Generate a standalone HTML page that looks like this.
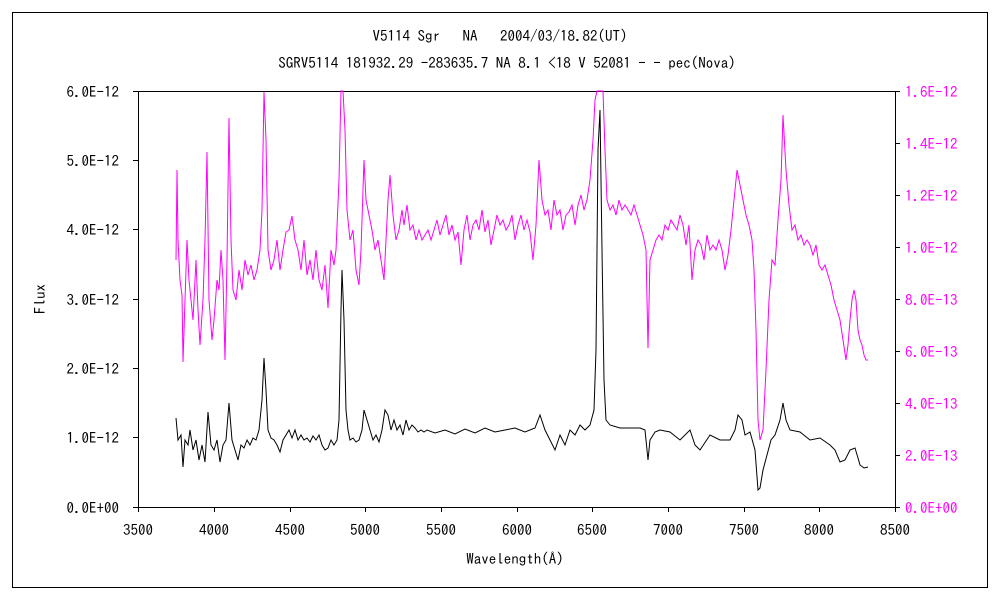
<!DOCTYPE html>
<html><head><meta charset="utf-8"><style>
html,body{margin:0;padding:0;background:#fff;}
svg{display:block;font-family:"IPAGothic","Liberation Sans",sans-serif;}
</style></head><body>
<svg width="1000" height="600" viewBox="0 0 1000 600" xmlns="http://www.w3.org/2000/svg">
<rect x="0" y="0" width="1000" height="600" fill="#fff"/>
<rect x="12.5" y="12.5" width="975" height="575" fill="none" stroke="#000" stroke-width="1"/>
<text x="500" y="41" font-size="15" text-anchor="middle" fill="#000">V5114 Sgr　 NA　 2004/03/18.82(UT)</text>
<text x="507" y="68" font-size="15" text-anchor="middle" fill="#000">SGRV5114 181932.29 -283635.7 NA 8.1 &lt;18 V 52081 - - pec(Nova)</text>
<rect x="138.5" y="91.5" width="757" height="416" fill="none" stroke="#000" stroke-width="1"/>
<g stroke="#000" stroke-width="1">
<line x1="133" y1="91.5" x2="138" y2="91.5"/><line x1="133" y1="160.5" x2="138" y2="160.5"/><line x1="133" y1="229.5" x2="138" y2="229.5"/><line x1="133" y1="299.5" x2="138" y2="299.5"/><line x1="133" y1="368.5" x2="138" y2="368.5"/><line x1="133" y1="437.5" x2="138" y2="437.5"/><line x1="133" y1="507.5" x2="138" y2="507.5"/>
<line x1="895" y1="91.5" x2="900" y2="91.5"/><line x1="895" y1="143.5" x2="900" y2="143.5"/><line x1="895" y1="195.5" x2="900" y2="195.5"/><line x1="895" y1="247.5" x2="900" y2="247.5"/><line x1="895" y1="299.5" x2="900" y2="299.5"/><line x1="895" y1="351.5" x2="900" y2="351.5"/><line x1="895" y1="403.5" x2="900" y2="403.5"/><line x1="895" y1="455.5" x2="900" y2="455.5"/><line x1="895" y1="507.5" x2="900" y2="507.5"/>
<line x1="138.5" y1="507" x2="138.5" y2="512"/><line x1="214.5" y1="507" x2="214.5" y2="512"/><line x1="290.5" y1="507" x2="290.5" y2="512"/><line x1="365.5" y1="507" x2="365.5" y2="512"/><line x1="441.5" y1="507" x2="441.5" y2="512"/><line x1="517.5" y1="507" x2="517.5" y2="512"/><line x1="592.5" y1="507" x2="592.5" y2="512"/><line x1="668.5" y1="507" x2="668.5" y2="512"/><line x1="744.5" y1="507" x2="744.5" y2="512"/><line x1="819.5" y1="507" x2="819.5" y2="512"/><line x1="895.5" y1="507" x2="895.5" y2="512"/>
</g>
<g font-size="15" text-anchor="end" fill="#000">
<text x="119" y="97">6.0E-12</text><text x="119" y="166">5.0E-12</text><text x="119" y="235">4.0E-12</text><text x="119" y="305">3.0E-12</text><text x="119" y="374">2.0E-12</text><text x="119" y="443">1.0E-12</text><text x="119" y="513">0.0E+00</text>
</g>
<g font-size="15" fill="#ff00ff">
<text x="905" y="97">1.6E-12</text><text x="905" y="149">1.4E-12</text><text x="905" y="201">1.2E-12</text><text x="905" y="253">1.0E-12</text><text x="905" y="305">8.0E-13</text><text x="905" y="357">6.0E-13</text><text x="905" y="409">4.0E-13</text><text x="905" y="461">2.0E-13</text><text x="905" y="513">0.0E+00</text>
</g>
<g font-size="15" text-anchor="middle" fill="#000">
<text x="138" y="535">3500</text><text x="214" y="535">4000</text><text x="290" y="535">4500</text><text x="365" y="535">5000</text><text x="441" y="535">5500</text><text x="517" y="535">6000</text><text x="592" y="535">6500</text><text x="668" y="535">7000</text><text x="744" y="535">7500</text><text x="819" y="535">8000</text><text x="895" y="535">8500</text>
<text x="515" y="564">Wavelength(Å)</text>
</g>
<text x="45" y="299" font-size="15" text-anchor="middle" transform="rotate(-90 45 299)">Flux</text>
<polyline fill="none" stroke="#ff00ff" stroke-width="1" points="176,260 177,170 178,240 180,280 182,295 183,362 185,300 187,240 189,280 191,300 193,320 196,260 198,310 200,345 203,300 205,240 207,152 209,300 212,340 214,320 217,280 219,290 221,250 223,280 225,360 227,260 229,118 231,240 233,290 236,300 239,270 242,290 245,260 248,275 251,265 254,280 257,270 260,250 262,210 264,92 266,140 268,250 271,270 274,260 277,240 280,270 283,250 286,232 289,230 292,216 295,240 298,250 301,270 304,240 307,275 310,260 313,280 316,250 319,280 322,290 325,265 328,308 331,250 334,265 336,250 339,180 341,91 343,91 345,130 347,210 350,240 353,230 356,270 359,285 361,250 364,160 366,200 369,215 372,230 375,250 378,240 381,260 384,280 386,240 388,200 390,175 393,215 396,240 399,230 402,210 404,225 407,205 410,230 413,225 416,240 419,230 422,240 425,235 428,230 431,240 434,230 437,220 440,235 443,225 446,215 449,235 452,225 455,240 458,232 461,265 464,230 467,215 470,240 473,225 476,220 479,230 482,210 485,232 488,220 491,245 494,230 497,215 500,225 503,220 506,230 509,225 512,215 515,240 518,225 521,215 524,230 527,220 530,232 533,260 536,225 539,160 542,200 545,215 548,210 551,230 554,200 557,215 560,210 563,230 566,215 569,212 572,205 575,225 578,205 581,195 584,210 587,200 590,180 593,140 595,100 597,91 600,91 603,91 605,150 607,200 610,210 613,205 616,215 619,200 622,210 625,205 628,210 631,215 634,205 637,215 640,225 643,235 646,250 648,348 650,260 653,250 656,240 659,235 662,240 665,225 668,230 671,220 674,225 677,230 680,215 683,225 686,245 689,225 692,280 695,250 698,240 701,245 704,260 707,235 710,250 713,245 716,250 719,240 722,250 725,270 728,255 731,230 734,200 737,170 740,185 743,200 746,215 749,225 752,240 754,270 756,330 758,420 760,440 763,430 766,370 769,300 772,260 775,265 778,220 781,180 783,115 786,170 789,205 792,230 795,225 798,240 801,235 804,245 807,240 810,245 813,255 816,245 819,265 822,270 825,265 828,275 831,285 834,300 837,310 840,320 843,340 846,360 848,345 850,320 852,300 854,290 856,300 858,330 860,340 862,345 864,355 866,360 868,360"/>
<polyline fill="none" stroke="#000" stroke-width="1" points="176,418 178,440 181,435 183,467 185,440 188,445 190,430 193,450 196,440 199,460 202,445 205,462 208,412 211,445 214,450 217,440 220,462 223,445 226,440 229,403 232,440 235,450 238,460 241,445 244,448 247,440 250,445 253,438 256,440 259,430 262,400 264,358 266,390 268,430 271,438 274,440 277,445 280,452 283,440 286,435 289,430 292,438 295,430 298,440 301,435 304,440 307,438 310,442 313,436 316,440 319,435 322,445 325,450 328,448 331,440 334,445 337,440 339,420 341,310 342,270 344,320 346,410 348,430 350,440 353,438 356,442 359,440 362,430 364,410 367,420 370,430 373,440 376,435 379,442 382,430 385,410 388,415 391,430 394,420 397,430 400,425 403,435 406,420 409,430 412,425 415,428 418,432 421,430 424,432 427,430 435,433 445,430 455,434 465,429 475,433 485,428 495,432 505,430 515,428 525,432 535,428 540,415 545,430 550,440 555,450 560,435 565,445 570,430 575,435 580,425 585,430 590,425 594,410 596,350 598,150 600,110 602,250 604,380 606,420 610,425 620,428 640,428 645,430 648,460 650,440 655,432 660,430 670,432 680,440 690,430 695,445 700,450 710,435 720,440 730,440 735,430 738,415 742,420 745,435 750,432 755,450 758,490 760,488 763,470 767,455 771,440 775,435 780,420 783,403 786,420 790,430 800,432 810,440 820,438 830,445 835,450 840,462 845,460 850,450 855,448 858,458 860,465 864,468 868,467"/>
</svg>
</body></html>
